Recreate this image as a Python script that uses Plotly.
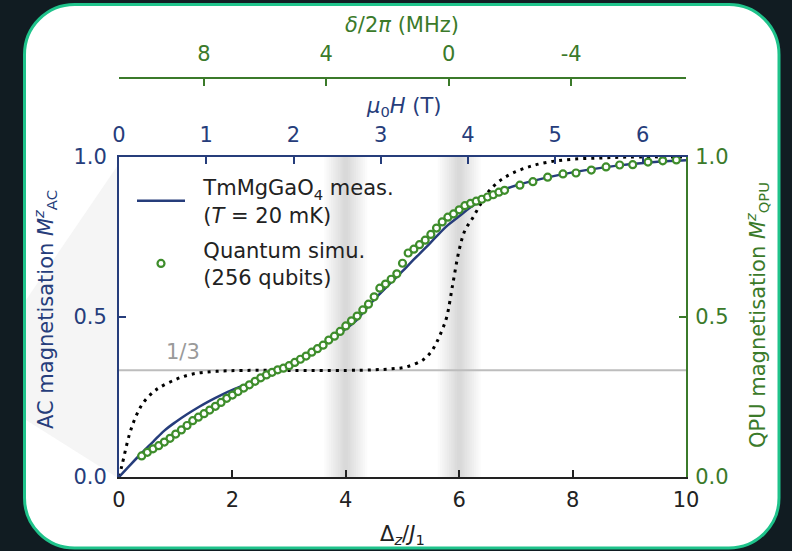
import plotly.graph_objects as go

# ---------------- data ----------------
qpu_delta = [0.4, 0.5, 0.6, 0.7, 0.8, 0.9, 1.0, 1.1, 1.2, 1.3, 1.4, 1.5, 1.6, 1.7, 1.8, 1.9,
             2.0, 2.1, 2.2, 2.3, 2.4, 2.5, 2.6, 2.7, 2.8, 2.9, 3.0, 3.1, 3.2, 3.3, 3.4, 3.5,
             3.6, 3.7, 3.8, 3.9, 4.0, 4.1, 4.2, 4.3, 4.4, 4.5, 4.6, 4.7, 4.8, 4.9, 5.0, 5.1,
             5.2, 5.3, 5.4, 5.5, 5.6, 5.7, 5.8, 5.9, 6.0, 6.1, 6.2, 6.3, 6.4, 6.5, 6.6, 6.7,
             6.8, 7.07, 7.3, 7.56, 7.83, 8.06, 8.33, 8.59, 8.83, 9.06, 9.33, 9.59, 9.83]
qpu_mag = [0.066, 0.077, 0.088, 0.098, 0.109, 0.121, 0.134, 0.147, 0.161, 0.176, 0.187, 0.198,
           0.209, 0.221, 0.233, 0.246, 0.256, 0.267, 0.278, 0.288, 0.299, 0.310, 0.319, 0.327,
           0.335, 0.340, 0.348, 0.358, 0.368, 0.378, 0.390, 0.401, 0.412, 0.428, 0.440, 0.455,
           0.472, 0.488, 0.503, 0.522, 0.540, 0.563, 0.590, 0.603, 0.618, 0.635, 0.668, 0.700,
           0.712, 0.726, 0.740, 0.758, 0.778, 0.797, 0.812, 0.822, 0.835, 0.848, 0.855, 0.862,
           0.868, 0.875, 0.882, 0.890, 0.896, 0.912, 0.923, 0.937, 0.947, 0.950, 0.959, 0.969,
           0.975, 0.976, 0.984, 0.988, 0.991]
qpu_err = [0.004] * len(qpu_mag)

meas_delta = [0, 0.2, 0.4, 0.6, 0.8, 1.0, 1.2, 1.4, 1.6, 1.8, 2.0, 2.2, 2.4, 2.6, 2.8, 3.0,
              3.2, 3.4, 3.6, 3.8, 4.0, 4.2, 4.4, 4.6, 4.8, 5.0, 5.2, 5.4, 5.6, 5.8, 6.0, 6.2,
              6.4, 6.6, 6.8, 7.0, 7.5, 8.0, 8.5, 9.0, 9.5, 10.0]
meas_mag = [0.0, 0.038, 0.075, 0.110, 0.145, 0.172, 0.196, 0.218, 0.238, 0.256, 0.272, 0.286,
            0.299, 0.313, 0.329, 0.347, 0.367, 0.388, 0.411, 0.436, 0.463, 0.492, 0.535, 0.572,
            0.608, 0.643, 0.680, 0.715, 0.752, 0.787, 0.815, 0.843, 0.866, 0.884, 0.899, 0.911,
            0.934, 0.952, 0.966, 0.977, 0.985, 0.990]

theory_delta = [0, 0.05, 0.19, 0.3, 0.42, 0.6, 0.72, 1.0, 1.3, 1.7, 2.2, 3.0, 4.0, 4.5, 4.8,
                5.07, 5.36, 5.5, 5.6, 5.7, 5.78, 5.89, 6.0, 6.1, 6.24, 6.4, 6.54, 6.75, 6.95,
                7.24, 7.6, 8.0, 8.5, 9.0, 10.0]
theory_mag = [0.0, 0.035, 0.137, 0.19, 0.23, 0.265, 0.28, 0.305, 0.322, 0.33, 0.333, 0.333,
              0.333, 0.335, 0.338, 0.344, 0.366, 0.39, 0.42, 0.46, 0.50, 0.606, 0.71, 0.77,
              0.81, 0.86, 0.897, 0.93, 0.95, 0.97, 0.985, 0.993, 0.997, 1.0, 1.0]

one_third = 1 / 3
band_centers = [4.0, 6.0]
x_ticks = [0, 2, 4, 6, 8, 10]
y_ticks = [0, 0.5, 1.0]
y_ticktext = ["0.0", "0.5", "1.0"]
field_ticks = [0, 1, 2, 3, 4, 5, 6]
detuning_ticks = [8, 4, 0, -4]
tesla_per_unit = 1 / 1.539          # mu0 H per Delta_z/J1 unit
mhz_zero_at = 5.815                 # Delta_z/J1 where delta/2pi = 0
mhz_per_unit = -1.853               # d(delta/2pi)/d(Delta_z/J1)

# ---------------- styling ----------------
NAVY = "#263d7b"
GREEN = "#3b7a2a"
MARK_GREEN = "#3e8d2b"
DARK = "#222222"
FONT = "DejaVu Sans"
FS = 21

W, H = 792, 551
L, R, T, B = 119, 686, 78, 477
PW, PH = R - L, B - T
PLOT_TOP = 157


def px(X):
    return (X - L) / PW


def py(Y):
    return (B - Y) / PH


fig = go.Figure()

fig.add_trace(go.Scatter(x=theory_delta, y=theory_mag, mode="lines", showlegend=False,
                         line=dict(color="black", width=3, dash="3px,5px", shape="spline"),
                         xaxis="x", yaxis="y", hoverinfo="skip"))
fig.add_trace(go.Scatter(x=meas_delta, y=meas_mag, mode="lines", legendgroup="meas",
                         name="\u00a0\u00a0TmMgGaO<sub>4</sub> meas.<br>\u00a0\u00a0(<i>T</i> = 20 mK)",
                         line=dict(color=NAVY, width=2.5, shape="spline"),
                         xaxis="x", yaxis="y"))
fig.add_trace(go.Scatter(x=qpu_delta, y=qpu_mag, mode="markers", legendgroup="qpu",
                         name="\u00a0\u00a0Quantum simu.<br>\u00a0\u00a0(256 qubits)",
                         error_y=dict(type="data", array=qpu_err, color=MARK_GREEN, thickness=1.5, width=0),
                         marker=dict(symbol="circle", size=7, color="white",
                                     line=dict(color=MARK_GREEN, width=2.2)),
                         xaxis="x", yaxis="y2"))
# same measurement mapped onto the secondary (field / detuning) axes so they are drawn
fig.add_trace(go.Scatter(x=[d * tesla_per_unit for d in meas_delta], y=meas_mag, mode="lines",
                         line=dict(width=0), opacity=0, showlegend=False, hoverinfo="skip",
                         xaxis="x2", yaxis="y"))
fig.add_trace(go.Scatter(x=[mhz_per_unit * (d - mhz_zero_at) for d in meas_delta], y=meas_mag,
                         mode="lines", line=dict(width=0), opacity=0, showlegend=False,
                         hoverinfo="skip", xaxis="x3", yaxis="y"))


# --------- background panel ---------
def rounded_rect(x0, y0, x1, y1, r):
    k = 0.5523 * r
    d = f"M{px(x0 + r)},{py(y0)} L{px(x1 - r)},{py(y0)} "
    d += f"C{px(x1 - r + k)},{py(y0)} {px(x1)},{py(y0 + r - k)} {px(x1)},{py(y0 + r)} "
    d += f"L{px(x1)},{py(y1 - r)} "
    d += f"C{px(x1)},{py(y1 - r + k)} {px(x1 - r + k)},{py(y1)} {px(x1 - r)},{py(y1)} "
    d += f"L{px(x0 + r)},{py(y1)} "
    d += f"C{px(x0 + r - k)},{py(y1)} {px(x0)},{py(y1 - r + k)} {px(x0)},{py(y1 - r)} "
    d += f"L{px(x0)},{py(y0 + r)} "
    d += f"C{px(x0)},{py(y0 + r - k)} {px(x0 + r - k)},{py(y0)} {px(x0 + r)},{py(y0)} Z"
    return d


shapes = [
    dict(type="path", xref="paper", yref="paper", layer="below",
         path=rounded_rect(24.5, 4.5, 779, 548, 50),
         fillcolor="white", line=dict(color="#1fc38b", width=3)),
    dict(type="path", xref="paper", yref="paper", layer="below",
         path=f"M{px(118)},{py(165)} L{px(26)},{py(300)} L{px(26)},{py(420)} L{px(118)},{py(478)} Z",
         fillcolor="#f5f5f5", line=dict(width=0)),
]
band_halfwidths = [0.38, 0.34, 0.30, 0.26, 0.22, 0.18, 0.14, 0.10, 0.07, 0.04]
for c in band_centers:
    for hw in band_halfwidths:
        shapes.append(dict(type="rect", xref="x", yref="y", layer="below",
                           x0=c - hw, x1=c + hw, y0=0, y1=1,
                           fillcolor="rgba(120,120,120,0.03)", line=dict(width=0)))
shapes.append(dict(type="line", xref="x", yref="y", layer="below",
                   x0=0, x1=10, y0=one_third, y1=one_third,
                   line=dict(color="#bdbdbd", width=2)))


def ann(text, X, Y, color, angle=0):
    return dict(text=text, x=px(X), y=py(Y), xref="paper", yref="paper", showarrow=False,
                xanchor="center", yanchor="middle", textangle=angle,
                font=dict(size=FS, color=color, family=FONT))


annotations = [
    ann("1/3", 183, 352, "#9a9a9a"),
    ann("Δ<sub><i>z</i></sub>/<i>J</i><sub>1</sub>", 402, 535, DARK),
    ann("<i>μ</i><sub>0</sub><i>H</i> (T)", 403, 107, NAVY),
    ann("<i>δ</i>/2<i>π</i> (MHz)", 402, 25, GREEN),
    ann("AC magnetisation <i>M</i><sup><i>z</i></sup><sub>AC</sub>", 45, 310, NAVY, -90),
    ann("QPU magnetisation <i>M</i><sup><i>z</i></sup><sub>QPU</sub>", 757, 315, GREEN, -90),
]

ydom = [0, (B - PLOT_TOP) / PH]
common = dict(showgrid=False, zeroline=False, showline=True, linewidth=2,
              ticks="inside", ticklen=7, tickwidth=2)

fig.update_layout(
    width=W, height=H,
    margin=dict(l=L, r=W - R, t=T, b=H - B, pad=0),
    paper_bgcolor="#111c22",
    plot_bgcolor="rgba(0,0,0,0)",
    font=dict(family=FONT, size=FS, color=DARK),
    shapes=shapes,
    annotations=annotations,
    showlegend=True,
    legend=dict(x=px(132), y=py(167), xanchor="left", yanchor="top",
                bgcolor="rgba(0,0,0,0)", font=dict(size=FS, color=DARK, family=FONT),
                itemwidth=48, tracegroupgap=5),
    xaxis=dict(range=[0, 10], tickvals=x_ticks, linecolor=DARK, tickcolor=DARK,
               tickfont=dict(size=FS, color=DARK), anchor="y", ticklabelstandoff=3, **common),
    yaxis=dict(range=[0, 1], domain=ydom, tickvals=y_ticks, ticktext=y_ticktext,
               linecolor=NAVY, tickcolor=NAVY, tickfont=dict(size=FS, color=NAVY),
               anchor="x", ticklabelstandoff=6, **common),
    yaxis2=dict(range=[0, 1], overlaying="y", side="right", tickvals=y_ticks, ticktext=y_ticktext,
                linecolor=GREEN, tickcolor=GREEN, tickfont=dict(size=FS, color=GREEN),
                anchor="x", ticklabelstandoff=3, **common),
    xaxis2=dict(range=[0, 10 * tesla_per_unit], overlaying="x", side="top", anchor="y",
                tickvals=field_ticks, linecolor=NAVY, tickcolor=NAVY, ticklabelstandoff=5,
                tickfont=dict(size=FS, color=NAVY), **common),
    xaxis3=dict(range=[mhz_per_unit * (0 - mhz_zero_at), mhz_per_unit * (10 - mhz_zero_at)],
                overlaying="x", side="top", anchor="free", position=1,
                tickvals=detuning_ticks, ticktext=[str(v) for v in detuning_ticks],
                linecolor=GREEN, tickcolor=GREEN, ticklabelstandoff=8,
                tickfont=dict(size=FS, color=GREEN), **common),
)

fig.write_html("out.html", config={"displayModeBar": False},
               post_script="document.body.style.margin='0';"
                           "document.documentElement.style.background='#111c22';"
                           "document.body.style.background='#111c22';")
